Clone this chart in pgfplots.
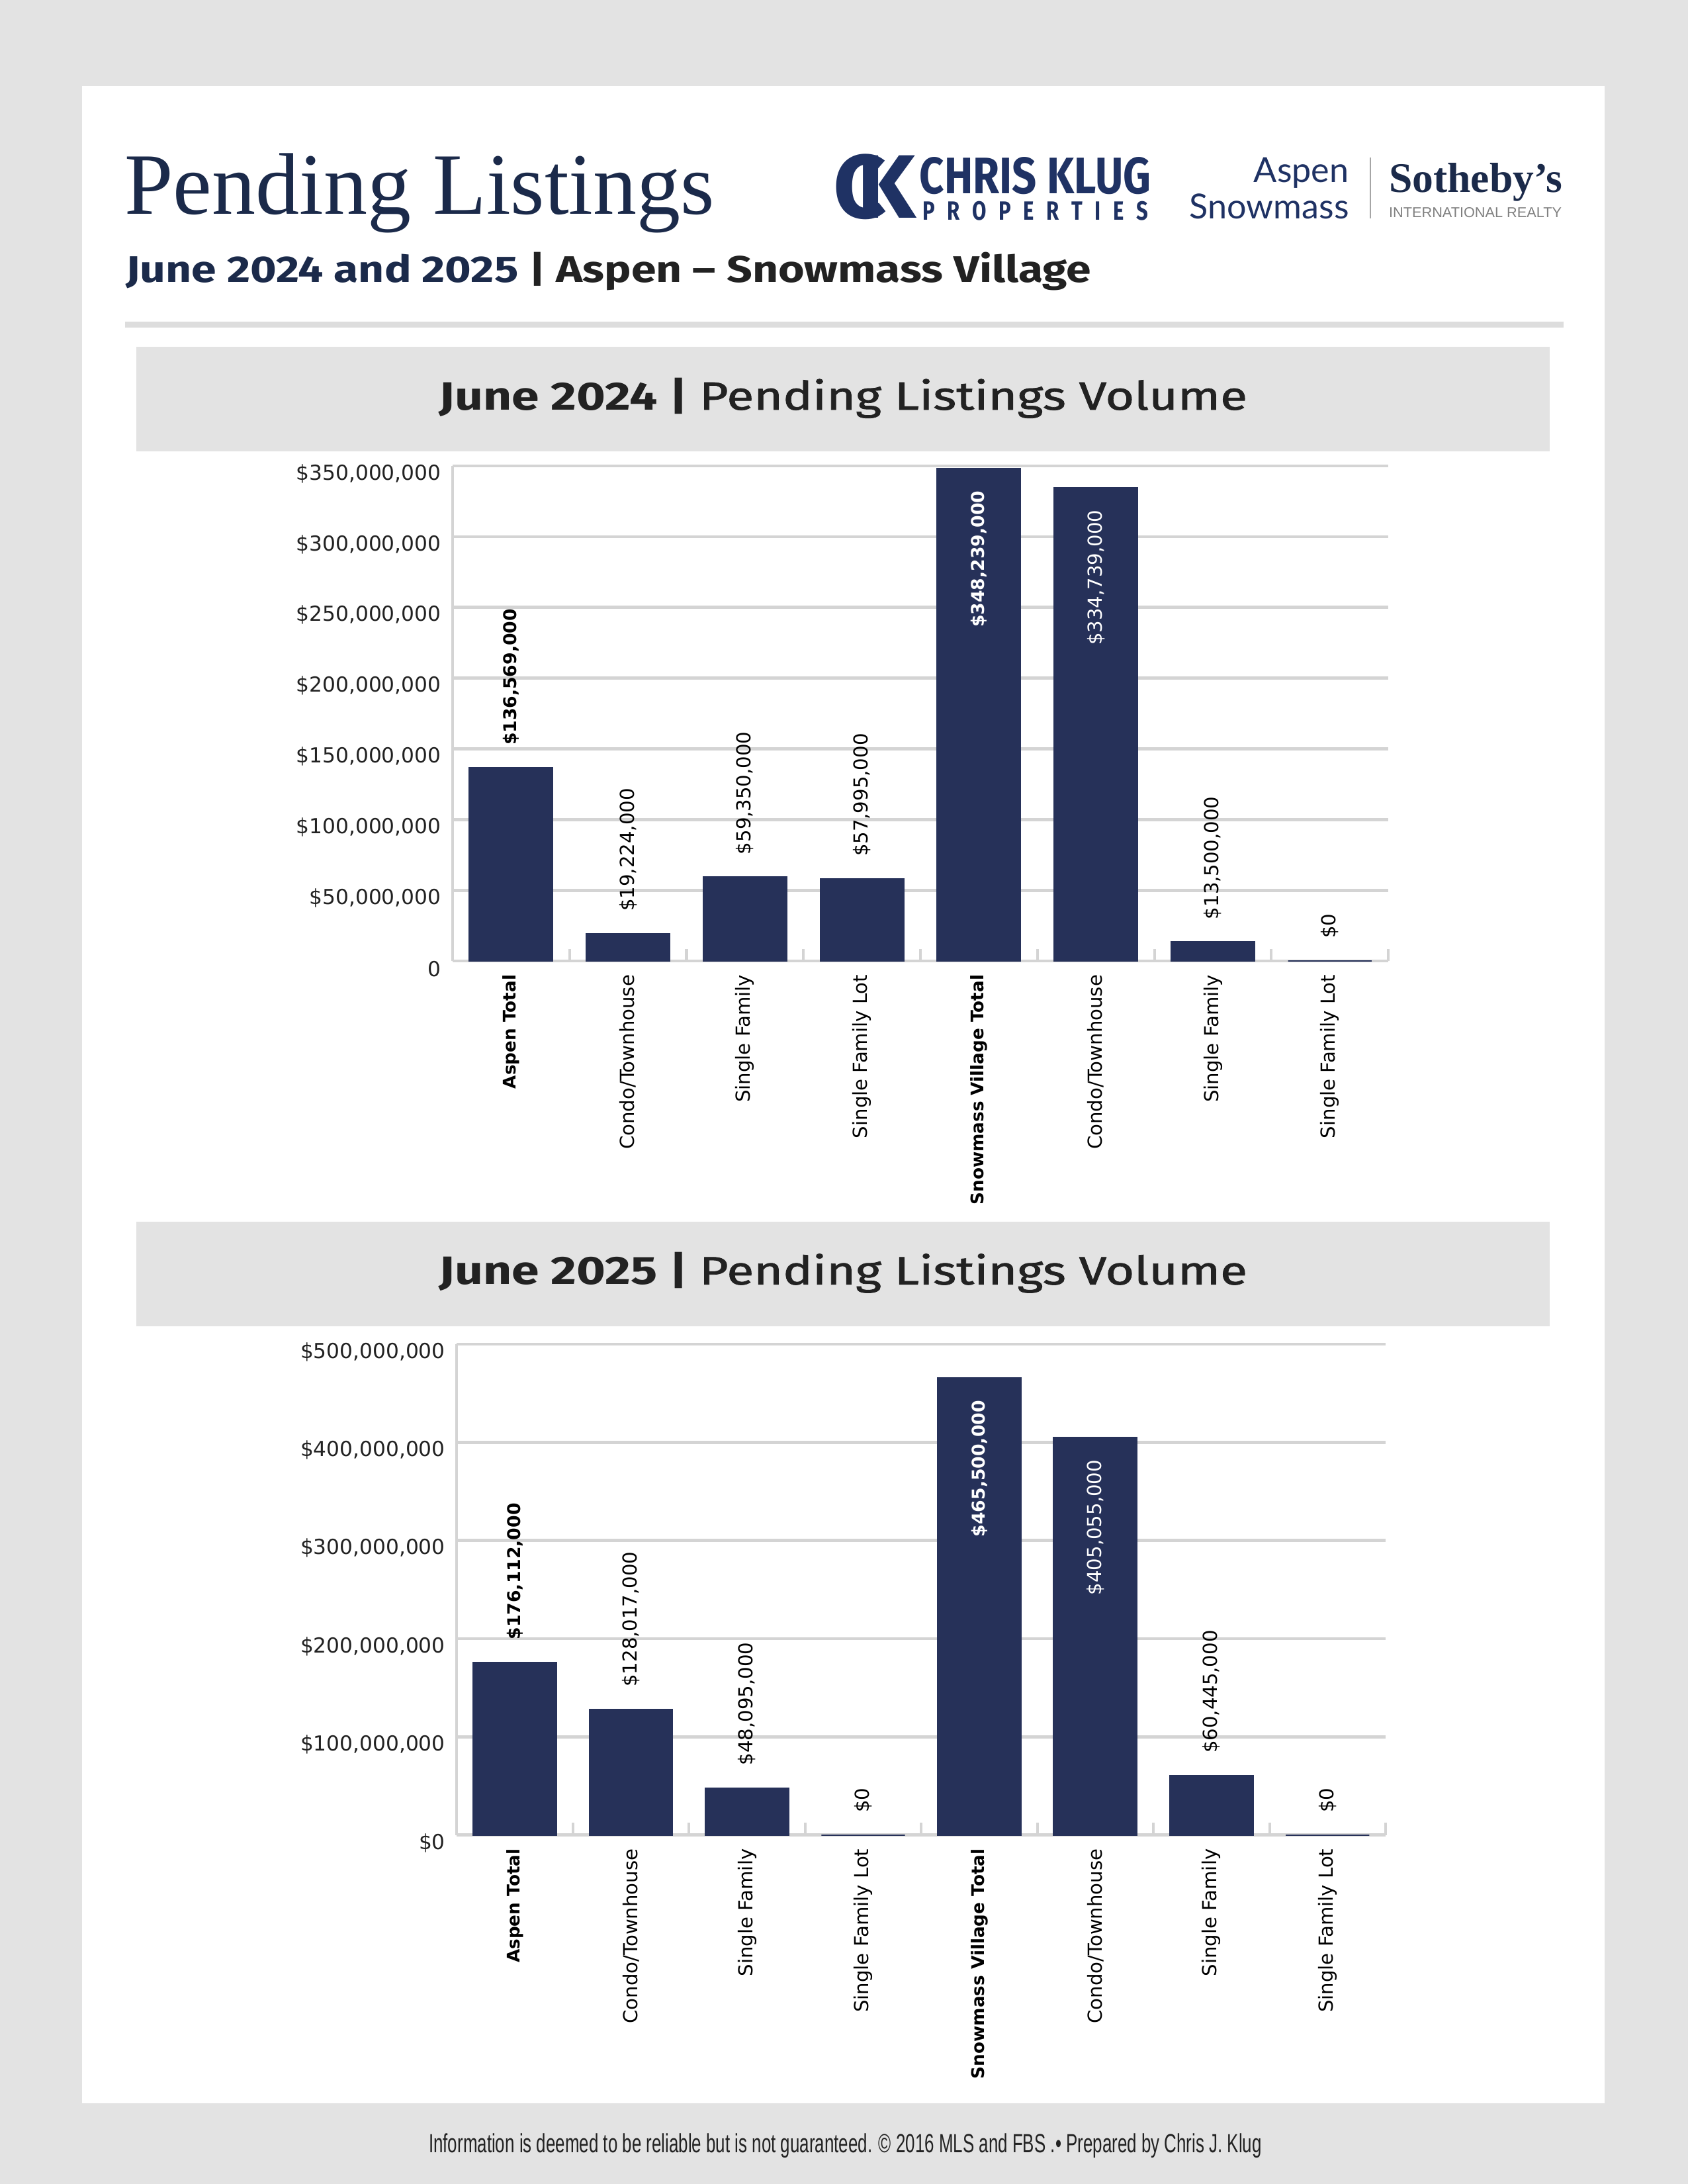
\documentclass[border=0pt]{standalone}
\usepackage{fontspec}
\setmainfont{DejaVu Sans}
\newfontfamily\titlefont{Liberation Serif}
\newfontfamily\headfont{Fira Sans}
\newfontfamily\headmed[FakeBold=1.2]{Fira Sans}
\newfontfamily\logofont{Lato}
\newfontfamily\footfont{Liberation Sans}
\usepackage{graphicx}
\usepackage{pgfplots}
\pgfplotsset{compat=1.18}

\definecolor{navy}{RGB}{27,42,74}
\definecolor{logonavy}{RGB}{31,50,100}
\definecolor{barc}{RGB}{38,49,89}
\definecolor{pagegray}{RGB}{227,227,227}
\definecolor{gridc}{RGB}{212,212,212}
\definecolor{textdark}{RGB}{34,34,34}

\pgfplotsset{
  pending/.style={
    scale only axis, clip=false,
    ybar, bar width=30.3pt,
    xmin=-0.5, xmax=7.5, ymin=0,
    scaled y ticks=false,
    xtick={0,...,7},
    xticklabels={{\fontsize{6.3}{7}\selectfont\bfseries Aspen Total},Condo/Townhouse,Single Family,Single Family Lot,{\fontsize{6.3}{7}\selectfont\bfseries Snowmass Village Total},Condo/Townhouse,Single Family,Single Family Lot},
    xticklabel style={rotate=90, anchor=east, inner sep=0pt, font=\fontsize{7}{8}\selectfont, text=black},
    xticklabel shift=4.8pt,
    major tick length=0pt,
    extra x ticks={0.5,1.5,2.5,3.5,4.5,5.5,6.5,7.5},
    extra x tick labels={},
    extra x tick style={major tick length=4.4pt, tick align=inside, tick style={gridc, line width=1pt}},
    axis x line*=bottom, axis y line*=left,
    axis line style={gridc, line width=1pt},
    ymajorgrids, major grid style={gridc, line width=1.1pt},
    yticklabel style={font=\fontsize{7.5}{8}\selectfont, text=textdark, inner sep=0pt, yshift=-2.8pt},
    yticklabel shift=4pt,
  },
  above/.style={fill=barc, draw=barc, bar shift=0pt, point meta=explicit symbolic,
    nodes near coords, every node near coord/.append style={rotate=90, anchor=west,
    inner xsep=8pt, inner ysep=0pt, text=black, font=\fontsize{7}{8}\selectfont}},
  aboveb/.style={above, every node near coord/.append style={font=\fontsize{6.4}{7}\selectfont\bfseries}},
  inside/.style={fill=barc, draw=barc, bar shift=0pt, point meta=explicit symbolic,
    nodes near coords, every node near coord/.append style={rotate=90, anchor=east,
    inner xsep=8pt, inner ysep=0pt, text=white, font=\fontsize{7}{8}\selectfont}},
  insideb/.style={inside, every node near coord/.append style={font=\fontsize{6.4}{7}\selectfont\bfseries}},
}

\begin{document}
\begin{tikzpicture}[x=0.50495pt,y=0.50495pt]
% page
\fill[pagegray] (0,0) rectangle (1212,1568);
\fill[white] (59,58) rectangle (1152,1506);

% header
\node[anchor=base west, inner sep=0, text=navy, font=\titlefont\fontsize{31.7}{32}\selectfont] at (89,1414.4) {Pending Listings};
\node[anchor=base west, inner sep=0] at (90,1365.2) {\resizebox{350pt}{10.9pt}{\headfont\bfseries\textcolor{navy}{June 2024 and 2025} \textcolor{textdark}{| Aspen – Snowmass Village}}};

% logos
\node[anchor=south west, inner sep=0] at (598,1410) {\resizebox{29.8pt}{23.2pt}{\headfont\bfseries\textcolor{logonavy}{C\kern-.32em K}}};
\node[anchor=base west, inner sep=0] at (660,1429) {\resizebox{83.8pt}{13.2pt}{\headfont\bfseries\textcolor{logonavy}{CHRIS KLUG}}};
\node[anchor=base west, inner sep=0] at (662,1410) {\resizebox{81.8pt}{6.8pt}{\headfont\bfseries\textcolor{logonavy}{P\kern.6em R\kern.6em O\kern.6em P\kern.6em E\kern.6em R\kern.6em T\kern.6em I\kern.6em E\kern.6em S}}};
\node[anchor=base east, inner sep=0, text=logonavy, font=\logofont\fontsize{12.5}{12.5}\selectfont] at (969,1437) {Aspen};
\node[anchor=base east, inner sep=0, text=logonavy, font=\logofont\fontsize{12.5}{12.5}\selectfont] at (969,1411) {Snowmass};
\draw[gray!70, line width=0.6pt] (984,1411) -- (984,1455);
\node[anchor=base west, inner sep=0] at (997,1430) {\resizebox{63pt}{!}{\titlefont\bfseries\textcolor{navy}{Sotheby’s}}};
\node[anchor=base west, inner sep=0] at (997,1412) {\resizebox{62.6pt}{3.6pt}{\footfont\textcolor{gray}{INTERNATIONAL REALTY}}};

\fill[gridc!80] (90,1333) rectangle (1123,1337);

% panel headers
\fill[pagegray] (98,1244) rectangle (1113,1319);
\fill[pagegray] (98,616) rectangle (1113,691);
\node[anchor=base, inner sep=0] at (605.5,1273.8) {\resizebox{293pt}{11.6pt}{\headfont\bfseries\textcolor{textdark}{June 2024 | {\headmed\mdseries Pending Listings Volume}}}};
\node[anchor=base, inner sep=0] at (605.5,645.8) {\resizebox{293pt}{11.6pt}{\headfont\bfseries\textcolor{textdark}{June 2025 | {\headmed\mdseries Pending Listings Volume}}}};

% chart 1: June 2024
\begin{axis}[pending, at={(164.1pt,443.35pt)}, anchor=south west,
  width=339.3pt, height=179.5pt, ymax=350000000,
  ytick={0,50000000,100000000,150000000,200000000,250000000,300000000,350000000},
  yticklabels={0,{\$50,000,000},{\$100,000,000},{\$150,000,000},{\$200,000,000},{\$250,000,000},{\$300,000,000},{\$350,000,000}}]
\addplot[aboveb] coordinates {(0,136569000) [\$136,569,000]};
\addplot[above] coordinates {(1,19224000) [\$19,224,000] (2,59350000) [\$59,350,000] (3,57995000) [\$57,995,000] (6,13500000) [\$13,500,000] (7,0) [\$0]};
\addplot[insideb] coordinates {(4,348239000) [\$348,239,000]};
\addplot[inside] coordinates {(5,334739000) [\$334,739,000]};
\end{axis}

% chart 2: June 2025
\begin{axis}[pending, at={(165.62pt,126.49pt)}, anchor=south west,
  width=336.8pt, height=178pt, ymax=500000000,
  ytick={0,100000000,200000000,300000000,400000000,500000000},
  yticklabels={{\$0},{\$100,000,000},{\$200,000,000},{\$300,000,000},{\$400,000,000},{\$500,000,000}}]
\addplot[aboveb] coordinates {(0,176112000) [\$176,112,000]};
\addplot[above] coordinates {(1,128017000) [\$128,017,000] (2,48095000) [\$48,095,000] (3,0) [\$0] (6,60445000) [\$60,445,000] (7,0) [\$0]};
\addplot[insideb] coordinates {(4,465500000) [\$465,500,000]};
\addplot[inside] coordinates {(5,405055000) [\$405,055,000]};
\end{axis}

% footer
\node[anchor=base, inner sep=0] at (607,22.4) {\resizebox{302pt}{6.9pt}{\footfont\textcolor{textdark}{Information is deemed to be reliable but is not guaranteed. © 2016 MLS and FBS .• Prepared by Chris J. Klug}}};
\end{tikzpicture}
\end{document}
